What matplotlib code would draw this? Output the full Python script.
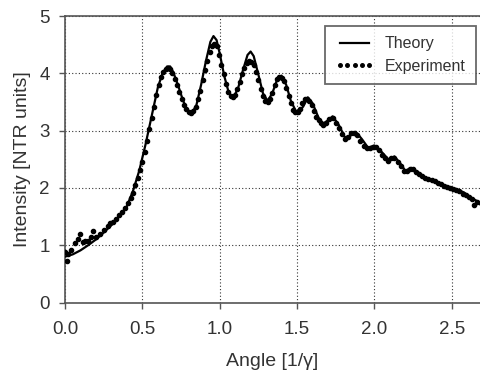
import numpy as np
import matplotlib
matplotlib.use('Agg')
import matplotlib.pyplot as plt

plt.rcParams['font.family'] = ['Liberation Sans', 'DejaVu Sans']

# theory curve
theory_x = [0.00, 0.05, 0.10, 0.15, 0.20, 0.25, 0.30, 0.35, 0.40, 0.44, 0.48, 0.52,
            0.56, 0.60, 0.63, 0.66, 0.68, 0.70, 0.73, 0.76, 0.79, 0.82, 0.85, 0.88,
            0.91, 0.94, 0.96, 0.98, 1.00, 1.03, 1.06, 1.09, 1.12, 1.15, 1.18, 1.20,
            1.22, 1.25, 1.28, 1.31, 1.34, 1.37, 1.40, 1.43, 1.46, 1.50, 1.54, 1.57,
            1.60, 1.64, 1.67, 1.70, 1.73, 1.77, 1.81, 1.85, 1.88, 1.92, 1.96, 2.00,
            2.04, 2.09, 2.13, 2.17, 2.20, 2.24, 2.28, 2.33, 2.38, 2.43, 2.48, 2.53,
            2.58, 2.63, 2.70]
theory_y = [0.80, 0.84, 0.91, 1.00, 1.10, 1.22, 1.35, 1.50, 1.68, 1.95, 2.30, 2.75,
            3.25, 3.75, 4.00, 4.12, 4.12, 4.02, 3.80, 3.55, 3.35, 3.30, 3.45, 3.80,
            4.20, 4.55, 4.65, 4.58, 4.35, 3.95, 3.65, 3.58, 3.75, 4.05, 4.32, 4.38,
            4.30, 3.98, 3.65, 3.52, 3.65, 3.88, 3.96, 3.80, 3.52, 3.30, 3.42, 3.58,
            3.48, 3.22, 3.12, 3.18, 3.25, 3.10, 2.88, 2.92, 2.98, 2.85, 2.70, 2.74,
            2.65, 2.50, 2.55, 2.42, 2.30, 2.35, 2.28, 2.18, 2.12, 2.07, 2.02, 1.98,
            1.92, 1.82, 1.72]

# experimental points
exp_x = [0.000, 0.010, 0.020, 0.040, 0.065, 0.085, 0.100, 0.115, 0.130, 0.150,
         0.165, 0.180, 0.200, 0.225, 0.250, 0.275, 0.290, 0.310, 0.330, 0.350,
         0.370, 0.390, 0.410, 0.425, 0.440, 0.455, 0.470, 0.485, 0.500, 0.515,
         0.530, 0.545, 0.560, 0.575, 0.590, 0.605, 0.620, 0.635, 0.650, 0.665,
         0.680, 0.695, 0.710, 0.725, 0.740, 0.755, 0.770, 0.785, 0.800, 0.815,
         0.830, 0.845, 0.860, 0.875, 0.890, 0.905, 0.920, 0.935, 0.950, 0.965,
         0.980, 0.995, 1.010, 1.025, 1.040, 1.055, 1.070, 1.085, 1.100, 1.115,
         1.130, 1.145, 1.160, 1.175, 1.190, 1.205, 1.220, 1.235, 1.250, 1.265,
         1.280, 1.295, 1.310, 1.325, 1.340, 1.355, 1.370, 1.385, 1.400, 1.415,
         1.430, 1.445, 1.460, 1.475, 1.490, 1.505, 1.520, 1.535, 1.550, 1.565,
         1.580, 1.595, 1.610, 1.625, 1.640, 1.655, 1.670, 1.690, 1.710, 1.730,
         1.750, 1.770, 1.790, 1.810, 1.830, 1.850, 1.870, 1.890, 1.910, 1.930,
         1.950, 1.970, 1.990, 2.010, 2.030, 2.050, 2.070, 2.090, 2.110, 2.130,
         2.150, 2.170, 2.190, 2.210, 2.230, 2.250, 2.270, 2.290, 2.310, 2.330,
         2.350, 2.370, 2.390, 2.410, 2.430, 2.450, 2.470, 2.490, 2.510, 2.530,
         2.550, 2.570, 2.590, 2.610, 2.630, 2.645, 2.665, 2.690]
exp_y = [0.88, 0.73, 0.84, 0.92, 1.03, 1.10, 1.20, 1.06, 1.08, 1.08,
         1.15, 1.25, 1.14, 1.20, 1.26, 1.33, 1.38, 1.40, 1.46, 1.52,
         1.58, 1.65, 1.74, 1.82, 1.92, 2.05, 2.18, 2.32, 2.45, 2.62,
         2.82, 3.02, 3.22, 3.42, 3.62, 3.80, 3.94, 4.02, 4.08, 4.10,
         4.08, 4.00, 3.90, 3.80, 3.68, 3.56, 3.45, 3.37, 3.32, 3.30,
         3.34, 3.42, 3.55, 3.70, 3.88, 4.06, 4.22, 4.38, 4.48, 4.52,
         4.48, 4.32, 4.15, 3.98, 3.82, 3.68, 3.60, 3.58, 3.62, 3.72,
         3.85, 3.98, 4.10, 4.18, 4.22, 4.20, 4.15, 4.02, 3.88, 3.72,
         3.60, 3.52, 3.50, 3.56, 3.66, 3.80, 3.90, 3.94, 3.92, 3.86,
         3.74, 3.60, 3.48, 3.36, 3.32, 3.33, 3.38, 3.48, 3.55, 3.56,
         3.52, 3.44, 3.34, 3.24, 3.18, 3.14, 3.10, 3.14, 3.20, 3.22,
         3.14, 3.04, 2.94, 2.86, 2.88, 2.96, 2.96, 2.92, 2.82, 2.74,
         2.70, 2.70, 2.72, 2.72, 2.66, 2.58, 2.52, 2.47, 2.52, 2.52,
         2.45, 2.38, 2.30, 2.29, 2.33, 2.33, 2.28, 2.24, 2.20, 2.18,
         2.16, 2.14, 2.12, 2.09, 2.07, 2.04, 2.02, 2.00, 1.98, 1.96,
         1.95, 1.90, 1.88, 1.84, 1.80, 1.70, 1.76, 1.74]

fig = plt.figure(figsize=(4.8, 3.73), dpi=100)
ax = fig.add_axes([0.1354, 0.189, 0.8646, 0.768])

ax.plot(theory_x, theory_y, color='black', lw=1.6, label='Theory', zorder=3)
ax.plot(exp_x, exp_y, ls='none', marker='o', ms=3.0, color='black',
        label='Experiment', zorder=4)

ax.set_xlim(0, 2.683)
ax.set_ylim(0, 5)
ax.set_xticks([0.0, 0.5, 1.0, 1.5, 2.0, 2.5])
ax.set_xticklabels(['0.0', '0.5', '1.0', '1.5', '2.0', '2.5'])
ax.set_yticks([0, 1, 2, 3, 4, 5])

ax.grid(True, color='#333333', ls=(0, (1, 2)), lw=0.8)
ax.set_axisbelow(True)

for s in ['left', 'bottom', 'top']:
    ax.spines[s].set_color('#555555')
    ax.spines[s].set_linewidth(1.2)
ax.spines['right'].set_visible(False)

ax.tick_params(axis='both', direction='out', length=4, width=1, color='#555555',
               labelsize=13.5, labelcolor='#333333')
ax.tick_params(axis='x', pad=9)
ax.tick_params(axis='y', pad=7)

ax.set_xlabel('Angle [1/\u03b3]', fontsize=14, color='#333333', labelpad=11)
ax.set_ylabel('Intensity [NTR units]', fontsize=14, color='#333333', labelpad=6)

leg = ax.legend(loc='upper right', bbox_to_anchor=(1.01, 0.993), numpoints=5,
                handlelength=2.4, fontsize=11.5, frameon=True, fancybox=False,
                borderpad=0.65, labelspacing=0.45, handletextpad=0.7,
                markerscale=0.85)
leg.get_frame().set_edgecolor('#444444')
leg.get_frame().set_linewidth(1.3)
for t in leg.get_texts():
    t.set_color('#333333')

fig.savefig('out.png', dpi=100)
